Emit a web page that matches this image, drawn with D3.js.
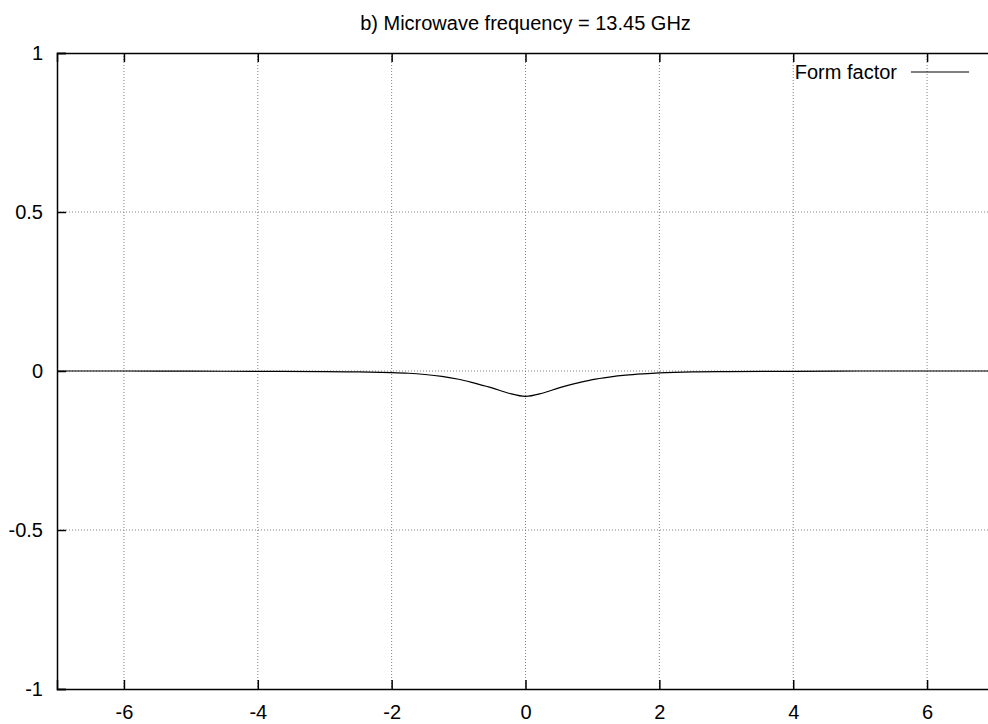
<!DOCTYPE html>
<html>
<head>
<meta charset="utf-8">
<script src="https://cdn.jsdelivr.net/npm/d3@7"></script>
<style>
    body { margin: 0; background: #fff; }
    svg { display: block; }
    text { font-family: "Liberation Sans", Arial, sans-serif; font-size: 20px; fill: #000; }
    .grid line { stroke: #808080; stroke-width: 1; stroke-dasharray: 1,2; }
</style>
</head>
<body>
<div id="chart"></div>
<script>
// Form factor curve
const xValues = [-7, -6, -5, -4, -3, -2.5, -2, -1.75, -1.5, -1.25, -1, -0.75, -0.5, -0.25, 0,
    0.25, 0.5, 0.75, 1, 1.25, 1.5, 1.75, 2, 2.5, 3, 4, 5, 6, 7];
const yValues = [0, 0, -0.0005, -0.001, -0.002, -0.003, -0.005, -0.007, -0.011, -0.017, -0.026, -0.039, -0.053, -0.070, -0.080,
    -0.070, -0.053, -0.039, -0.027, -0.019, -0.013, -0.009, -0.006, -0.003, -0.002, -0.001, 0, 0, 0];

const xTicks = [-6, -4, -2, 0, 2, 4, 6];
const yTicks = [-1, -0.5, 0, 0.5, 1];
const title = 'b) Microwave frequency = 13.45 GHz';
const seriesName = 'Form factor';

const width = 988, height = 724;
// plot frame runs past the right edge of the picture
const margin = { top: 53, right: -6, bottom: 35, left: 57 };

const svg = d3.select('#chart').append('svg')
    .attr('width', width)
    .attr('height', height);

const x = d3.scaleLinear().domain([-7, 7]).range([margin.left, width - margin.right]);
const y = d3.scaleLinear().domain([-1, 1]).range([height - margin.bottom, margin.top]);

// plain hyphen for negatives, like the original
const fmt = d => String(d);

// Grid lines
svg.append('g')
    .attr('class', 'grid')
    .selectAll('line')
    .data(xTicks)
    .join('line')
    .attr('x1', d => x(d)).attr('x2', d => x(d))
    .attr('y1', y(1)).attr('y2', y(-1));

svg.append('g')
    .attr('class', 'grid')
    .selectAll('line')
    .data(yTicks.filter(d => Math.abs(d) < 1))
    .join('line')
    .attr('x1', x(-7)).attr('x2', x(7))
    .attr('y1', d => y(d)).attr('y2', d => y(d));

// Axes: ticks pointing inward, labels outside
const tickLen = 9;
const fontFamily = '"Liberation Sans", Arial, sans-serif';
svg.append('g')
    .attr('transform', `translate(0,${y(-1)})`)
    .call(d3.axisBottom(x).tickValues(xTicks).tickSize(-tickLen).tickPadding(16).tickFormat(fmt))
    .call(g => g.select('.domain').attr('stroke', '#000').attr('stroke-width', 1.5))
    .call(g => g.selectAll('.tick line').attr('stroke', '#000').attr('stroke-width', 1.5))
    .call(g => g.selectAll('.tick text').attr('font-size', 20).attr('font-family', fontFamily));

svg.append('g')
    .attr('transform', `translate(0,${y(1)})`)
    .call(d3.axisTop(x).tickValues(xTicks).tickSize(-tickLen).tickFormat(''))
    .call(g => g.select('.domain').attr('stroke', '#000').attr('stroke-width', 1.5))
    .call(g => g.selectAll('.tick line').attr('stroke', '#000').attr('stroke-width', 1.5));

svg.append('g')
    .attr('transform', `translate(${x(-7)},0)`)
    .call(d3.axisLeft(y).tickValues(yTicks).tickSize(-tickLen).tickPadding(14).tickFormat(fmt))
    .call(g => g.select('.domain').attr('stroke', '#000').attr('stroke-width', 1.5))
    .call(g => g.selectAll('.tick line').attr('stroke', '#000').attr('stroke-width', 1.5))
    .call(g => g.selectAll('.tick text').attr('font-size', 20).attr('font-family', fontFamily));

// Curve
const points = xValues.map((v, i) => ({ x: v, y: yValues[i] }));
svg.append('path')
    .datum(points)
    .attr('fill', 'none')
    .attr('stroke', '#000')
    .attr('stroke-width', 1.2)
    .attr('d', d3.line().x(d => x(d.x)).y(d => y(d.y)).curve(d3.curveCatmullRom));

// Title
svg.append('text')
    .attr('x', x(0))
    .attr('y', 30)
    .attr('text-anchor', 'middle')
    .text(title);

// Legend
svg.append('text')
    .attr('x', 897)
    .attr('y', 79)
    .attr('text-anchor', 'end')
    .text(seriesName);
svg.append('line')
    .attr('x1', 911).attr('x2', 969)
    .attr('y1', 72).attr('y2', 72)
    .attr('stroke', '#000')
    .attr('stroke-width', 1.2);
</script>
</body>
</html>
